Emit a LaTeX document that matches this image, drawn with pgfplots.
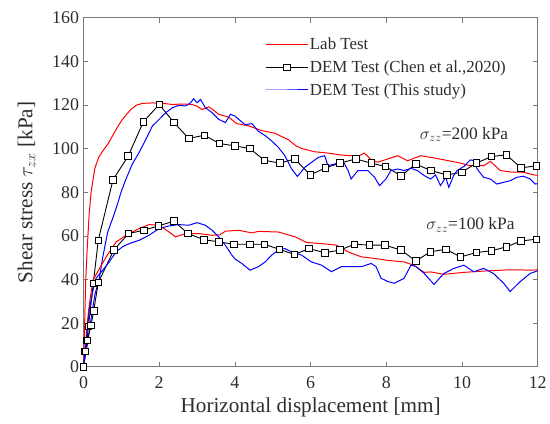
\documentclass[border=0pt]{standalone}
\usepackage{pgfplots}
\pgfplotsset{compat=1.18}
\usepackage{fontspec}
\setmainfont{Liberation Serif}
\definecolor{axgray}{RGB}{120,120,120}
\definecolor{txtgray}{RGB}{45,45,45}
\begin{document}
\begin{tikzpicture}
\begin{axis}[
  at={(0,0)}, anchor=south west,
  scale only axis, width=457pt, height=351pt,
  xmin=0, xmax=12, ymin=0, ymax=160,
  xtick={0,2,...,12}, ytick={0,20,...,160},
  tick align=inside, major tick length=5pt,
  axis line style={axgray, line width=0.8pt},
  every tick/.style={axgray, line width=0.8pt},
  /pgf/number format/assume math mode=true,
  tick label style={font=\fontsize{18}{18}\selectfont, text=txtgray},
  xticklabel style={yshift=-6pt},
  yticklabel style={xshift=-1pt},
  label style={font=\fontsize{21.3}{22}\selectfont, text=txtgray},
  xlabel={Horizontal displacement [mm]},
  ylabel={Shear stress $\tau_{zx}$ [kPa]},
  xlabel style={yshift=-3pt},
  ylabel style={yshift=10pt},
  legend style={draw=none, fill=none, at={(0.40,0.945)}, anchor=north west,
    font=\fontsize{17}{18}\selectfont, text=txtgray, inner sep=0pt, outer sep=0pt,
    row sep=7.5pt, nodes={inner sep=1pt}},
  legend cell align=left,
  legend image code/.code={\draw[mark repeat=2,mark phase=2,#1] plot coordinates {(0pt,0pt) (21.5pt,0pt) (43pt,0pt)};},
]
% Lab test 200 kPa
\addplot[red, line width=1pt] coordinates {
(0,0) (0.03,20) (0.06,40) (0.1,55) (0.15,70) (0.2,80) (0.3,91) (0.4,96) (0.51,99) (0.64,102) (0.77,106) (0.9,110) (1.03,113.5) (1.25,118) (1.4,120) (1.56,120.8) (1.82,121) (2.1,120.8) (2.35,120.3) (2.6,120.5) (2.87,120.3) (3.0,119.5) (3.13,118) (3.31,119.2) (3.45,117.5) (3.57,115.8) (3.83,114.5) (4.05,111.5) (4.36,110.5) (4.71,108.3) (5.06,107.1) (5.23,105.6) (5.41,104.2) (5.6,101.5) (5.76,100.1) (6.11,98.6) (6.46,98) (6.81,97.1) (7.07,96.8) (7.25,96.5) (7.42,98) (7.6,94.9) (7.77,93.8) (8.04,95.3) (8.3,96.8) (8.56,94.5) (8.91,96.8) (9.35,95.5) (9.7,94.3) (9.96,93.4) (10.22,92.2) (10.57,92.2) (10.75,94.2) (11.01,90) (11.3,89.3) (11.62,89.2) (11.89,88) (12,87.8)
};
\addlegendentry{Lab Test}
% Chen 200 kPa
\addplot[black, line width=0.9pt, mark=square*, mark size=3.3pt, mark options={fill=white, draw=black, line width=0.8pt}] coordinates {
(0,0) (0.04,7) (0.09,12) (0.13,18.5) (0.26,38.3) (0.39,58) (0.78,85.8) (1.18,96.6) (1.58,112.3) (2.0,120.3) (2.39,112) (2.78,104.7) (3.19,106.2) (3.59,102.4) (4.0,101.3) (4.39,100.1) (4.78,94.7) (5.19,93.4) (5.58,95.3) (5.99,88) (6.39,91.2) (6.78,93.4) (7.19,95.3) (7.6,93.4) (7.97,91.9) (8.39,87.6) (8.78,93) (9.17,90) (9.6,88) (9.99,89.2) (10.38,93.4) (10.77,96.4) (11.17,97.2) (11.56,91.2) (11.96,92.2)
};
\addlegendentry{DEM Test (Chen et al.,2020)}
% This study 200 kPa
\addplot[blue, line width=1pt] coordinates {
(0,0) (0.1,10) (0.2,22) (0.3,33) (0.42,40.6) (0.51,50.4) (0.64,61.8) (0.77,68) (0.9,74.7) (0.99,80) (1.12,86) (1.29,93) (1.47,98.3) (1.65,104.4) (1.82,110.4) (2.0,113.5) (2.17,116.5) (2.35,118.8) (2.52,119.9) (2.7,119.6) (2.83,121.1) (2.91,122.9) (3.0,121.1) (3.09,122.6) (3.22,118.8) (3.4,116.5) (3.57,113.5) (3.75,112) (3.88,115.8) (4.0,115) (4.1,113.5) (4.27,111) (4.45,111.5) (4.62,108) (4.8,106) (4.97,103.6) (5.15,100.6) (5.32,96.8) (5.5,90.7) (5.65,87.3) (5.85,91.5) (6.02,93.7) (6.2,96) (6.37,96.8) (6.46,92.2) (6.64,93) (6.85,94.5) (6.99,90) (7.07,86.1) (7.25,90) (7.51,90) (7.69,86.9) (7.82,83.1) (7.99,86.1) (8.12,90) (8.3,90.7) (8.47,90) (8.65,91) (8.82,90) (9.0,87.7) (9.17,86.1) (9.3,88) (9.43,83.1) (9.57,86.9) (9.65,82.3) (9.78,87.7) (9.87,90) (10.05,91.9) (10.22,94.9) (10.31,94.5) (10.4,90.7) (10.57,86.9) (10.75,86.1) (10.92,83.8) (11.1,84.6) (11.27,85.3) (11.45,86.9) (11.62,87.4) (11.8,86.1) (11.93,83.8) (12,84)
};
\addlegendentry{DEM Test (This study)}
% Lab test 100 kPa
\addplot[red, line width=1pt, forget plot] coordinates {
(0,0) (0.05,10) (0.1,20) (0.15,28) (0.25,39.8) (0.42,45) (0.6,50.4) (0.86,57.2) (1.12,60.3) (1.47,63.4) (1.73,65.2) (2.0,64.9) (2.26,61.8) (2.43,59.6) (2.7,61.1) (3.05,61.1) (3.4,60.3) (3.6,60.5) (3.75,62.2) (4.1,62.6) (4.45,61.4) (4.62,62.1) (5.15,61.8) (5.59,59.6) (5.89,57) (6.29,56.5) (6.68,55.8) (6.99,52.7) (7.34,50.4) (7.69,49.7) (8.04,48.8) (8.47,48.1) (8.73,46.5) (9.0,43.3) (9.17,43.5) (9.52,42.4) (10.05,43.3) (10.58,43.9) (11.27,44.5) (11.89,44.3) (12,44.6)
};
% Chen 100 kPa
\addplot[black, line width=0.9pt, mark=square*, mark size=3.3pt, mark options={fill=white, draw=black, line width=0.8pt}, forget plot] coordinates {
(0,0) (0.05,7) (0.1,12) (0.2,19) (0.27,25.7) (0.39,38.6) (0.8,53.5) (1.19,61.1) (1.59,62.6) (1.98,64.6) (2.39,66.8) (2.76,61.1) (3.18,58.3) (3.57,57.3) (3.98,56.2) (4.39,56.2) (4.78,56.2) (5.17,53.9) (5.57,51.5) (5.96,54.2) (6.37,52.3) (6.77,53.5) (7.16,56.2) (7.55,55.8) (7.96,55.8) (8.39,53.5) (8.78,48.5) (9.16,52.7) (9.57,53.9) (9.96,50.4) (10.38,52.4) (10.78,53.2) (11.17,55) (11.56,57.7) (11.96,58.5)
};
% This study 100 kPa
\addplot[blue, line width=1pt, forget plot] coordinates {
(0,0) (0.05,8) (0.1,17) (0.16,26.9) (0.25,35) (0.33,40.6) (0.51,44.3) (0.68,48.1) (0.86,52.7) (1.03,55) (1.21,56.5) (1.47,58) (1.73,60.3) (2.0,63.4) (2.26,64.6) (2.52,65.2) (2.78,64.9) (3.0,66.1) (3.22,64.9) (3.4,62.6) (3.57,59.6) (3.75,55.7) (3.92,51.2) (4.0,49.5) (4.18,47.4) (4.4,44.3) (4.62,45.9) (4.8,48.1) (4.97,51.2) (5.15,53.5) (5.32,54.2) (5.5,52.7) (5.76,51.2) (6.02,48.1) (6.29,46.6) (6.55,43.6) (6.81,45.9) (7.07,45.9) (7.34,45.9) (7.6,47.4) (7.73,45.9) (7.86,40.6) (8.04,39.1) (8.21,38.3) (8.47,40.6) (8.65,46.6) (8.78,46) (9.0,42.8) (9.26,37.8) (9.52,42.8) (9.78,45.1) (10.05,46.6) (10.31,43.6) (10.57,45.1) (10.83,42.8) (11.1,38.3) (11.27,34.5) (11.54,39.1) (11.8,42.8) (11.93,43.6) (12,44)
};
\node[anchor=west, font=\fontsize{17.5}{18}\selectfont, text=txtgray, inner sep=0pt] at (axis cs:8.88,106.5) {$\sigma_{zz}$=200 kPa};
\node[anchor=west, font=\fontsize{17.5}{18}\selectfont, text=txtgray, inner sep=0pt] at (axis cs:9.05,65) {$\sigma_{zz}$=100 kPa};
\end{axis}
\path (-84pt,-57pt) rectangle (466pt,369pt);
\end{tikzpicture}
\end{document}
